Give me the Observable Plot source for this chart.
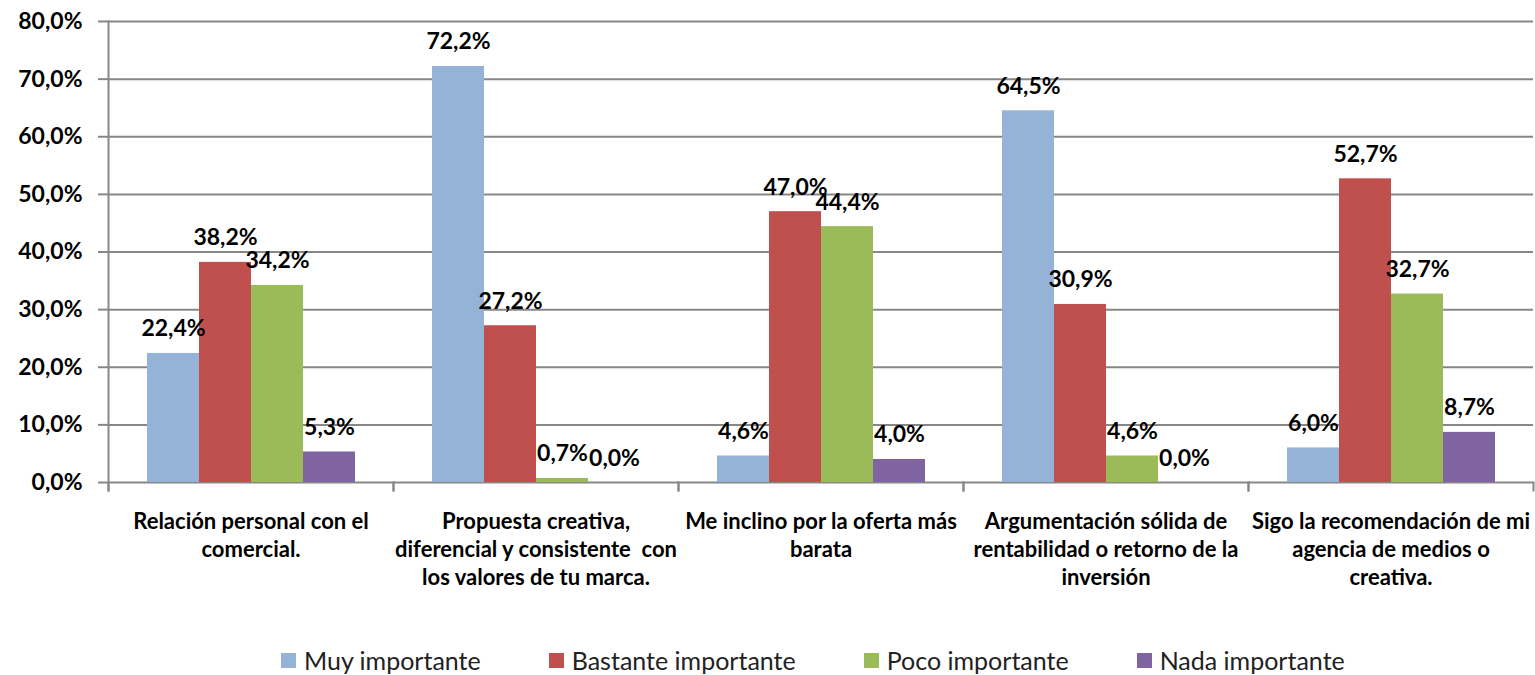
<!DOCTYPE html>
<html><head><meta charset="utf-8">
<script src="https://cdn.jsdelivr.net/npm/d3@7"></script>
<script src="https://cdn.jsdelivr.net/npm/@observablehq/plot@0.6"></script>
<style>
body{margin:0;background:#fff;font-family:Lato,"Liberation Sans",sans-serif;}
#chart{position:relative;width:1535px;height:675px;overflow:hidden;}
#legend{position:absolute;left:281px;top:645px;display:flex;align-items:center;font-size:25px;color:#222;line-height:30px;}
.item{display:flex;align-items:center;margin-right:68px;}
.sw{width:15px;height:15px;margin-right:8px;}
</style></head><body><div id="chart"></div><script>
const categories = [
  "Relación personal con el\ncomercial.",
  "Propuesta creativa,\ndiferencial y consistente  con\nlos valores de tu marca.",
  "Me inclino por la oferta más\nbarata",
  "Argumentación sólida de\nrentabilidad o retorno de la\ninversión",
  "Sigo la recomendación de mi\nagencia de medios o\ncreativa."
];
const series = ["Muy importante", "Bastante importante", "Poco importante", "Nada importante"];
const colors = ["#95B3D7", "#C0504D", "#9BBB59", "#8064A2"];
const muy = [22.4, 72.2, 4.6, 64.5, 6.0];
const bastante = [38.2, 27.2, 47.0, 30.9, 52.7];
const poco = [34.2, 0.7, 44.4, 4.6, 32.7];
const nada = [5.3, 0.0, 4.0, 0.0, 8.7];
const yTicks = [0, 10, 20, 30, 40, 50, 60, 70, 80];

const seriesValues = [muy, bastante, poco, nada];
const rows = categories.flatMap((c, i) => series.map((s, j) => ({category: c, series: s, value: seriesValues[j][i]})));
const fmt = v => v.toFixed(1).replace(".", ",") + "%";
const grey = "#878787";

const chart = Plot.plot({
  width: 1535, height: 632,
  marginLeft: 108, marginRight: 2, marginTop: 21, marginBottom: 150,
  style: {fontFamily: "Lato, 'Liberation Sans', sans-serif", color: "#000", background: "#fff"},
  fx: {domain: categories, padding: 0, label: null},
  x: {domain: series, paddingInner: 0, paddingOuter: 0.74, axis: null},
  y: {domain: [0, 80], axis: null},
  color: {domain: series, range: colors},
  marks: [
    Plot.ruleY(yTicks, {y: d => d, stroke: grey, strokeWidth: 2}),
    Plot.axisY({ticks: yTicks, tickSize: 10, tickPadding: 16, tickFormat: fmt, fontSize: 23, fontWeight: "bold", stroke: grey, strokeWidth: 2, label: null}),
    Plot.frame({anchor: "left", facetAnchor: "left", stroke: grey, strokeWidth: 2, insetBottom: -8}),
    Plot.frame({anchor: "left", stroke: grey, strokeWidth: 2, insetTop: 461, insetBottom: -8}),
    Plot.frame({anchor: "right", stroke: grey, strokeWidth: 2, insetTop: 461, insetBottom: -8}),
    Plot.barY(rows, {fx: "category", x: "series", y: "value", fill: "series", inset: 0}),
    Plot.text(rows, {fx: "category", x: "series", y: "value", text: d => fmt(d.value), lineAnchor: "bottom", dy: -17, fontSize: 23, fontWeight: "bold", fill: "#000"}),
    Plot.axisFx({anchor: "bottom", tickSize: 0, tickPadding: 27, fontSize: 22, fontWeight: "bold", lineHeight: 1.27, label: null})
  ]
});
const root = document.getElementById("chart");
root.appendChild(chart);
const legend = document.createElement("div");
legend.id = "legend";
series.forEach((s, i) => {
  const it = document.createElement("div");
  it.className = "item";
  const sw = document.createElement("span");
  sw.className = "sw";
  sw.style.background = colors[i];
  const t = document.createElement("span");
  t.textContent = s;
  it.appendChild(sw); it.appendChild(t);
  legend.appendChild(it);
});
root.appendChild(legend);
</script></body></html>
